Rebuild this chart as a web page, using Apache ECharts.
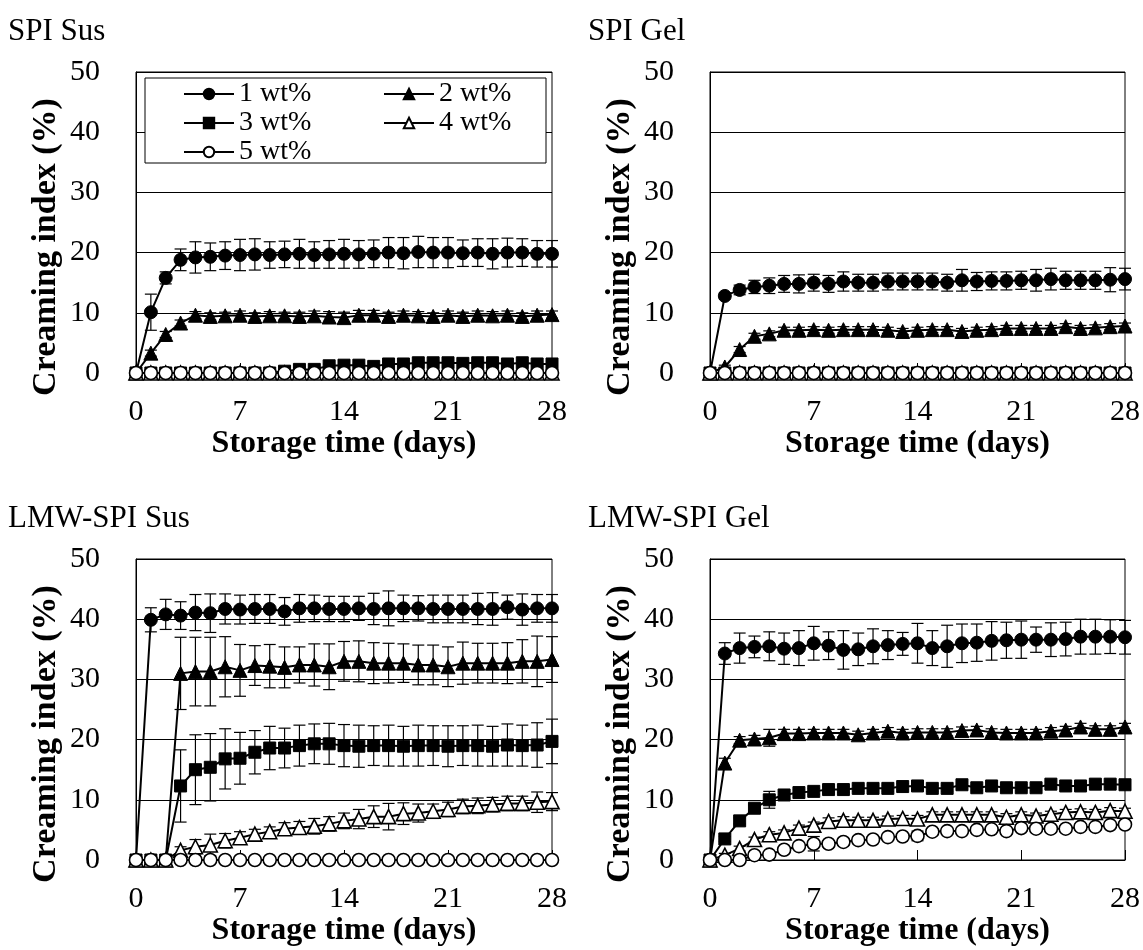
<!DOCTYPE html>
<html>
<head>
<meta charset="utf-8">
<script src="https://cdn.jsdelivr.net/npm/echarts@6/dist/echarts.min.js"></script>
<style>
html,body{margin:0;padding:0;background:#fff;}
#chart{width:1143px;height:950px;}
</style>
</head>
<body>
<div id="chart"></div>
<script>
// ---------- data ----------
const days = [0,1,2,3,4,5,6,7,8,9,10,11,12,13,14,15,16,17,18,19,20,21,22,23,24,25,26,27,28];
const xTickLabels = [0,7,14,21,28];
const yTickLabels = [0,10,20,30,40,50];
const seriesNames = ['1 wt%','2 wt%','3 wt%','4 wt%','5 wt%'];
const panelTitles = ['SPI Sus','SPI Gel','LMW-SPI Sus','LMW-SPI Gel'];
const xAxisTitle = 'Storage time (days)';
const yAxisTitle = 'Creaming index (%)';

// SPI Sus
const spiSus1 = [0,10.1,15.8,18.8,19.2,19.3,19.5,19.6,19.7,19.6,19.7,19.8,19.6,19.7,19.8,19.7,19.8,20.0,19.9,20.1,20.0,20.0,19.9,20.0,19.8,20.0,20.0,19.8,19.8];
const spiSus1Err = [0,3.0,1.0,1.8,2.6,2.3,2.3,2.6,2.6,2.2,2.2,2.4,2.2,2.3,2.4,2.3,2.3,2.5,2.6,2.6,2.5,2.5,2.2,2.3,2.5,2.4,2.3,2.2,2.2];
const spiSus2 = [0,3.3,6.4,8.3,9.6,9.4,9.5,9.6,9.4,9.5,9.5,9.4,9.5,9.3,9.2,9.6,9.6,9.4,9.6,9.5,9.4,9.6,9.4,9.6,9.5,9.6,9.4,9.6,9.7];
const spiSus2Err = [0,0.5,0.5,0.5,0.6,0.6,0.6,0.7,0.6,0.7,0.6,0.7,0.8,0.9,0.9,0.8,0.8,0.7,0.7,0.7,0.6,0.7,0.7,0.7,0.7,0.7,0.6,0.7,0.6];
const spiSus3 = [0,0,0,0,0,0,0,0,0,0,0.3,0.6,0.6,1.2,1.3,1.3,1.1,1.5,1.5,1.7,1.7,1.7,1.6,1.7,1.7,1.5,1.7,1.5,1.5];
const spiSus3Err = [0,0,0,0,0,0,0,0,0,0,0.2,0.3,0.3,0.3,0.3,0.3,0.3,0.3,0.3,0.3,0.3,0.3,0.3,0.3,0.3,0.3,0.3,0.3,0.3];
const spiSus4 = [0,0,0,0,0,0,0,0,0,0,0,0,0,0,0,0,0,0,0,0,0,0,0,0,0,0,0,0,0];
const spiSus4Err = [0,0,0,0,0,0,0,0,0,0,0,0,0,0,0,0,0,0,0,0,0,0,0,0,0,0,0,0,0];
const spiSus5 = [0,0,0,0,0,0,0,0,0,0,0,0,0,0,0,0,0,0,0,0,0,0,0,0,0,0,0,0,0];
const spiSus5Err = [0,0,0,0,0,0,0,0,0,0,0,0,0,0,0,0,0,0,0,0,0,0,0,0,0,0,0,0,0];

// SPI Gel
const spiGel1 = [0,12.8,13.8,14.3,14.5,14.8,14.8,15.0,14.8,15.2,15.0,15.0,15.2,15.2,15.2,15.2,15.0,15.4,15.2,15.3,15.3,15.4,15.4,15.6,15.4,15.4,15.4,15.5,15.6];
const spiGel1Err = [0,0.5,0.8,1.1,1.3,1.4,1.5,1.4,1.4,1.6,1.4,1.4,1.4,1.4,1.4,1.4,1.4,1.8,1.5,1.5,1.5,1.5,1.8,1.8,1.5,1.5,1.5,2.0,1.8];
const spiGel2 = [0,1.0,3.9,6.1,6.5,7.1,7.1,7.2,7.1,7.2,7.2,7.2,7.1,6.9,7.1,7.2,7.2,6.9,7.1,7.2,7.4,7.4,7.4,7.4,7.7,7.4,7.5,7.7,7.8];
const spiGel2Err = [0,0.3,0.5,0.5,0.5,0.5,0.5,0.5,0.5,0.5,0.5,0.5,0.5,0.5,0.5,0.5,0.5,0.5,0.5,0.5,0.5,0.5,0.5,0.5,0.5,0.5,0.5,0.5,0.5];
const spiGel3 = [0,0,0,0,0,0,0,0,0,0,0,0,0,0,0,0,0,0,0,0,0,0,0,0,0,0,0,0,0];
const spiGel3Err = [0,0,0,0,0,0,0,0,0,0,0,0,0,0,0,0,0,0,0,0,0,0,0,0,0,0,0,0,0];
const spiGel4 = [0,0,0,0,0,0,0,0,0,0,0,0,0,0,0,0,0,0,0,0,0,0,0,0,0,0,0,0,0];
const spiGel4Err = [0,0,0,0,0,0,0,0,0,0,0,0,0,0,0,0,0,0,0,0,0,0,0,0,0,0,0,0,0];
const spiGel5 = [0,0,0,0,0,0,0,0,0,0,0,0,0,0,0,0,0,0,0,0,0,0,0,0,0,0,0,0,0];
const spiGel5Err = [0,0,0,0,0,0,0,0,0,0,0,0,0,0,0,0,0,0,0,0,0,0,0,0,0,0,0,0,0];

// LMW-SPI Sus
const lmwSus1 = [0,39.9,40.8,40.6,41.1,41.0,41.7,41.6,41.7,41.7,41.3,41.8,41.8,41.7,41.7,41.8,41.7,41.8,41.8,41.8,41.7,41.7,41.7,41.7,41.7,42.0,41.6,41.8,41.8];
const lmwSus1Err = [0,2.0,2.5,2.3,3.0,3.2,2.5,2.4,2.4,2.4,2.3,2.3,2.2,2.1,2.1,2.0,2.6,2.9,2.2,2.1,2.3,2.3,2.3,2.6,2.7,2.0,2.6,2.3,2.3];
const lmwSus2 = [0,0,0,31.0,31.3,31.3,32.1,31.5,32.3,32.2,32.0,32.4,32.4,32.1,33.0,33.0,32.7,32.7,32.7,32.4,32.4,32.1,32.7,32.7,32.7,32.7,33.0,33.0,33.3];
const lmwSus2Err = [0,0,0,6.0,5.7,5.7,5.0,4.3,3.3,3.6,3.4,3.0,3.5,3.8,3.3,3.4,3.4,3.3,3.2,3.3,3.3,3.3,3.5,3.3,3.3,3.4,3.6,4.2,3.8];
const lmwSus3 = [0,0,0,12.3,15.0,15.4,16.8,16.9,17.9,18.6,18.6,19.0,19.3,19.3,19.0,18.9,19.0,19.0,18.9,19.0,19.0,18.9,19.0,19.0,18.9,19.1,19.0,19.1,19.7];
const lmwSus3Err = [0,0,0,6.0,5.8,5.6,5.0,4.3,3.6,3.6,3.3,3.4,3.3,3.4,3.5,3.5,3.3,3.4,3.3,3.4,3.3,3.4,3.3,3.4,3.3,3.5,3.4,3.7,3.7];
const lmwSus4 = [0,0,0,1.6,2.2,2.5,3.2,3.7,4.3,4.7,5.2,5.4,5.6,6.0,6.5,6.8,7.2,7.2,7.7,7.8,8.1,8.4,8.9,9.0,9.2,9.4,9.4,9.6,9.7];
const lmwSus4Err = [0,0,0,0.6,1.2,1.8,1.2,1.0,0.8,0.8,1.0,1.0,1.3,1.2,1.3,1.6,1.8,2.2,1.8,1.5,1.2,1.2,1.2,1.3,1.2,1.2,1.2,1.7,1.5];
const lmwSus5 = [0,0,0,0,0,0,0,0,0,0,0,0,0,0,0,0,0,0,0,0,0,0,0,0,0,0,0,0,0];
const lmwSus5Err = [0,0,0,0,0,0,0,0,0,0,0,0,0,0,0,0,0,0,0,0,0,0,0,0,0,0,0,0,0];

// LMW-SPI Gel
const lmwGel1 = [0,34.3,35.2,35.4,35.5,35.1,35.2,36.0,35.6,34.9,35.0,35.5,35.7,35.9,36.0,35.2,35.5,36.0,36.1,36.4,36.5,36.6,36.6,36.6,36.7,37.1,37.1,37.1,37.0];
const lmwGel1Err = [0,1.8,2.5,1.8,2.4,2.6,2.9,2.8,2.3,3.2,2.7,2.9,2.4,1.9,3.3,2.9,3.5,3.2,3.1,3.2,3.0,3.1,2.1,2.8,2.8,2.9,2.9,2.8,2.8];
const lmwGel2 = [0,16.1,19.9,20.1,20.3,21.0,21.0,21.1,21.1,21.1,20.8,21.1,21.4,21.1,21.2,21.2,21.2,21.5,21.6,21.2,21.1,21.1,21.1,21.4,21.6,22.1,21.7,21.7,22.1];
const lmwGel2Err = [0,0.8,0.6,0.6,1.4,0.7,0.7,0.6,0.6,0.6,0.6,0.6,0.6,0.6,0.6,0.6,0.6,0.6,0.6,0.6,0.6,0.6,0.6,0.6,0.6,0.6,0.6,0.6,0.6];
const lmwGel3 = [0,3.5,6.5,8.6,10.0,10.8,11.2,11.4,11.7,11.7,11.9,11.9,11.9,12.2,12.3,11.9,11.9,12.5,12.0,12.3,12.0,12.0,12.0,12.6,12.3,12.3,12.6,12.6,12.5];
const lmwGel3Err = [0,0.4,0.5,0.5,1.4,0.6,0.5,0.5,0.5,0.5,0.5,0.5,0.5,0.5,0.5,0.5,0.5,0.5,0.5,0.5,0.5,0.5,0.5,0.5,0.5,0.5,0.5,0.5,0.5];
const lmwGel4 = [0,0.8,1.9,3.4,4.2,4.5,5.3,5.8,6.4,6.6,6.6,6.6,6.8,6.9,6.8,7.5,7.5,7.5,7.5,7.5,7.1,7.5,7.3,7.6,7.9,8.0,7.9,8.2,8.1];
const lmwGel4Err = [0,0.3,0.4,0.4,0.5,0.5,0.5,0.5,0.6,0.6,0.5,0.5,0.5,0.5,0.6,0.5,0.5,0.5,0.5,0.5,0.6,0.5,0.5,0.5,0.5,0.5,0.5,0.5,0.5];
const lmwGel5 = [0,0,0,0.8,0.9,1.7,2.3,2.7,2.7,3.0,3.3,3.4,3.8,3.9,4.0,4.7,4.8,4.8,5.0,5.1,4.8,5.3,5.2,5.2,5.2,5.5,5.5,5.8,5.9];
const lmwGel5Err = [0,0,0,0.3,0.4,0.4,0.5,1.2,0.5,0.6,0.6,0.5,0.5,0.5,0.8,0.5,0.5,0.5,0.5,0.5,0.5,0.5,0.5,0.5,0.5,0.5,0.5,0.5,0.5];

// ---------- layout / styling ----------
const FF = "'Liberation Serif','Times New Roman',serif";
const panels = [
  {title: panelTitles[0], vals:[spiSus1,spiSus2,spiSus3,spiSus4,spiSus5], errs:[spiSus1Err,spiSus2Err,spiSus3Err,spiSus4Err,spiSus5Err]},
  {title: panelTitles[1], vals:[spiGel1,spiGel2,spiGel3,spiGel4,spiGel5], errs:[spiGel1Err,spiGel2Err,spiGel3Err,spiGel4Err,spiGel5Err]},
  {title: panelTitles[2], vals:[lmwSus1,lmwSus2,lmwSus3,lmwSus4,lmwSus5], errs:[lmwSus1Err,lmwSus2Err,lmwSus3Err,lmwSus4Err,lmwSus5Err]},
  {title: panelTitles[3], vals:[lmwGel1,lmwGel2,lmwGel3,lmwGel4,lmwGel5], errs:[lmwGel1Err,lmwGel2Err,lmwGel3Err,lmwGel4Err,lmwGel5Err]}
];
const gridPos = [
  {left:136, top:72, width:416, height:301},
  {left:710, top:72, width:415, height:301},
  {left:136, top:559, width:416, height:301},
  {left:710, top:559, width:415, height:301}
];
const titlePos = [{left:8, top:16},{left:588, top:16},{left:8, top:503},{left:588, top:503}];
const symbols = ['circle','triangle','rect','triangle','circle'];
const symbolSizes = [13,14,12,14,13];
const filled = [true,true,true,false,false];

const grids = [], xAxes = [], yAxes = [], series = [], titles = [], graphics = [];

function errRender(params, api) {
  const x = api.value(0), lo = api.value(1), hi = api.value(2);
  const p1 = api.coord([x, lo]);
  const p2 = api.coord([x, hi]);
  const w = 6;
  const st = {stroke:'#000', lineWidth:1.2, fill:null};
  return {type:'group', children:[
    {type:'line', shape:{x1:p1[0], y1:p1[1], x2:p2[0], y2:p2[1]}, style:st},
    {type:'line', shape:{x1:p1[0]-w, y1:p1[1], x2:p1[0]+w, y2:p1[1]}, style:st},
    {type:'line', shape:{x1:p2[0]-w, y1:p2[1], x2:p2[0]+w, y2:p2[1]}, style:st}
  ]};
}

panels.forEach((p, gi) => {
  const g = gridPos[gi];
  grids.push(Object.assign({show:true, borderColor:'#000', borderWidth:1, backgroundColor:'#fff'}, g));
  titles.push({text:p.title, left:titlePos[gi].left, top:titlePos[gi].top, padding:0,
    textStyle:{fontFamily:FF, fontSize:31, fontWeight:'normal', color:'#000'}});
  xAxes.push({
    type:'value', gridIndex:gi, min:xTickLabels[0], max:xTickLabels[xTickLabels.length-1],
    interval:xTickLabels[1]-xTickLabels[0],
    axisLine:{show:true, onZero:false, lineStyle:{color:'#000', width:1}},
    axisTick:{show:true, inside:true, length:10, lineStyle:{color:'#000', width:1}},
    axisLabel:{fontFamily:FF, fontSize:30, color:'#000', margin:24},
    splitLine:{show:false},
    name:xAxisTitle, nameLocation:'middle', nameGap:55,
    nameTextStyle:{fontFamily:FF, fontSize:32, fontWeight:'bold', color:'#000'}
  });
  yAxes.push({
    type:'value', gridIndex:gi, min:yTickLabels[0], max:yTickLabels[yTickLabels.length-1],
    interval:yTickLabels[1]-yTickLabels[0],
    axisLine:{show:true, lineStyle:{color:'#000', width:1}},
    axisTick:{show:false},
    axisLabel:{fontFamily:FF, fontSize:30, color:'#000', margin:36},
    splitLine:{show:true, lineStyle:{color:'#000', width:1}}
  });
  graphics.push({type:'text', x:g.left-90, y:g.top+175, rotation:Math.PI/2, z:10,
    style:{text:yAxisTitle, fontFamily:FF, fontSize:34, fontWeight:'bold', fill:'#000',
      align:'center', verticalAlign:'middle', textAlign:'center', textVerticalAlign:'middle'}});

  // error bars
  p.vals.forEach((vals, si) => {
    const errs = p.errs[si];
    const data = [];
    days.forEach((d, i) => { if (errs[i] > 0) data.push([d, vals[i]-errs[i], vals[i]+errs[i]]); });
    if (data.length) series.push({type:'custom', xAxisIndex:gi, yAxisIndex:gi, z:1, silent:true,
      renderItem:errRender, data:data, encode:{x:0, y:[1,2]}});
  });
  // lines
  p.vals.forEach((vals, si) => {
    series.push({
      type:'line', name:seriesNames[si], xAxisIndex:gi, yAxisIndex:gi, z:2+si,
      data: days.map((d,i) => [d, vals[i]]),
      symbol:symbols[si], symbolSize:symbolSizes[si], showSymbol:true, clip:false,
      lineStyle:{color:'#000', width:2},
      itemStyle: filled[si] ? {color:'#000', borderColor:'#000', borderWidth:1}
                            : {color:'#fff', borderColor:'#000', borderWidth:1.6},
      emphasis:{disabled:true}
    });
  });
});

// legend box (first panel)
graphics.push({type:'rect', z:3, shape:{x:145, y:78, width:401, height:85},
  style:{fill:'#fff', stroke:'#000', lineWidth:1}});

const legendCommon = {orient:'vertical', top:80, padding:0, itemGap:1, itemWidth:50, itemHeight:13,
  itemTextGap:5, z:5, textStyle:{fontFamily:FF, fontSize:28, color:'#000'}, selectedMode:false};

const chart = echarts.init(document.getElementById('chart'), null, {renderer:'canvas'});
chart.setOption({
  animation:false,
  backgroundColor:'#fff',
  title:titles,
  grid:grids,
  xAxis:xAxes,
  yAxis:yAxes,
  legend:[
    Object.assign({}, legendCommon, {left:183, data:[seriesNames[0], seriesNames[2], seriesNames[4]]}),
    Object.assign({}, legendCommon, {left:383, data:[seriesNames[1], seriesNames[3]]})
  ],
  graphic:graphics,
  series:series
});
</script>
</body>
</html>
